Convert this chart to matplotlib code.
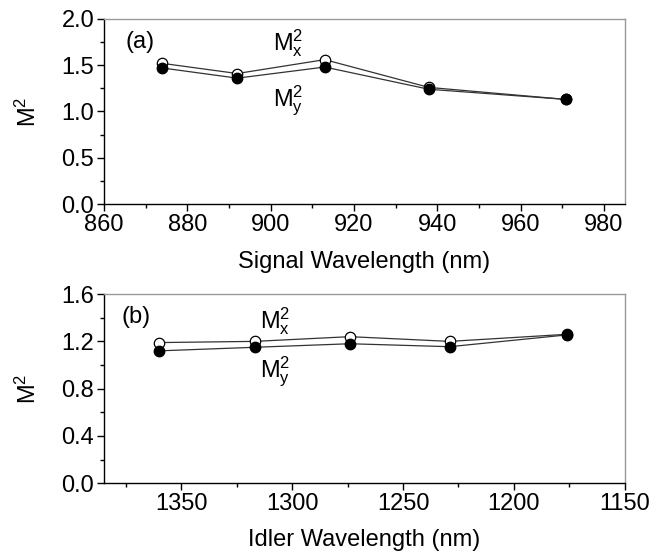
# M^2 vs signal / idler wavelength, two stacked panels
import matplotlib
matplotlib.use('Agg')
from matplotlib import pyplot as plt
from matplotlib.ticker import MultipleLocator

plt.rcParams['font.family'] = ['Liberation Sans', 'DejaVu Sans']
plt.rcParams['mathtext.fontset'] = 'custom'
plt.rcParams['mathtext.rm'] = 'Liberation Sans'
plt.rcParams['mathtext.it'] = 'Liberation Sans'

# data
signal_nm = [874, 892, 913, 938, 971]
signal_mx2 = [1.52, 1.41, 1.56, 1.26, 1.13]
signal_my2 = [1.47, 1.36, 1.48, 1.24, 1.13]

idler_nm = [1360, 1317, 1274, 1229, 1176]
idler_mx2 = [1.19, 1.20, 1.24, 1.20, 1.26]
idler_my2 = [1.12, 1.15, 1.18, 1.155, 1.255]

fig = plt.figure(figsize=(6.66, 5.56), dpi=100)
ax1 = fig.add_axes([0.156, 0.633, 0.782, 0.333])
ax2 = fig.add_axes([0.156, 0.131, 0.782, 0.340])

fs = 17


def style(ax):
    for s in ['top', 'right']:
        ax.spines[s].set_color('#999999')
    for s in ['left', 'bottom']:
        ax.spines[s].set_color('black')
    for s in ax.spines.values():
        s.set_linewidth(1.0)
    ax.tick_params(which='both', top=False, right=False, direction='out',
                   labelsize=fs, pad=2)
    ax.tick_params(which='major', length=5, width=1)
    ax.tick_params(which='minor', length=3, width=1)


def draw(ax, x, mx, my):
    ax.plot(x, mx, '-', color='#333333', lw=0.9, marker='o', ms=7.5,
            mfc='white', mec='black', mew=0.9, zorder=3)
    ax.plot(x, my, '-', color='#333333', lw=0.9, marker='o', ms=7.5,
            mfc='black', mec='black', zorder=4)


# (a) signal
draw(ax1, signal_nm, signal_mx2, signal_my2)
ax1.set_xlim(860, 985)
ax1.set_ylim(0, 2.0)
ax1.xaxis.set_major_locator(MultipleLocator(20))
ax1.xaxis.set_minor_locator(MultipleLocator(10))
ax1.yaxis.set_major_locator(MultipleLocator(0.5))
ax1.yaxis.set_minor_locator(MultipleLocator(0.25))
ax1.yaxis.set_major_formatter(plt.FormatStrFormatter('%.1f'))
ax1.set_xlabel('Signal Wavelength (nm)', fontsize=fs)
ax1.set_ylabel('M$^2$', fontsize=fs)
ax1.text(865.3, 1.75, '(a)', fontsize=fs, ha='left', va='center')
ax1.text(900.7, 1.66, r'M$_\mathrm{x}^2$', fontsize=fs, ha='left', va='baseline')
ax1.text(900.7, 1.057, r'M$_\mathrm{y}^2$', fontsize=fs, ha='left', va='baseline')
style(ax1)

# (b) idler
draw(ax2, idler_nm, idler_mx2, idler_my2)
ax2.set_xlim(1385, 1150)
ax2.set_ylim(0, 1.6)
ax2.xaxis.set_major_locator(MultipleLocator(50))
ax2.xaxis.set_minor_locator(MultipleLocator(25))
ax2.yaxis.set_major_locator(MultipleLocator(0.4))
ax2.yaxis.set_minor_locator(MultipleLocator(0.2))
ax2.yaxis.set_major_formatter(plt.FormatStrFormatter('%.1f'))
ax2.set_xlabel('Idler Wavelength (nm)', fontsize=fs)
ax2.set_ylabel('M$^2$', fontsize=fs)
ax2.text(1376.9, 1.41, '(b)', fontsize=fs, ha='left', va='center')
ax2.text(1314.4, 1.307, r'M$_\mathrm{x}^2$', fontsize=fs, ha='left', va='baseline')
ax2.text(1314.4, 0.897, r'M$_\mathrm{y}^2$', fontsize=fs, ha='left', va='baseline')
style(ax2)

ax1.yaxis.set_label_coords(-0.12, 0.5)
ax2.yaxis.set_label_coords(-0.12, 0.5)
ax1.xaxis.set_label_coords(0.5, -0.255)
ax2.xaxis.set_label_coords(0.5, -0.24)

fig.savefig('out.png', dpi=100)
